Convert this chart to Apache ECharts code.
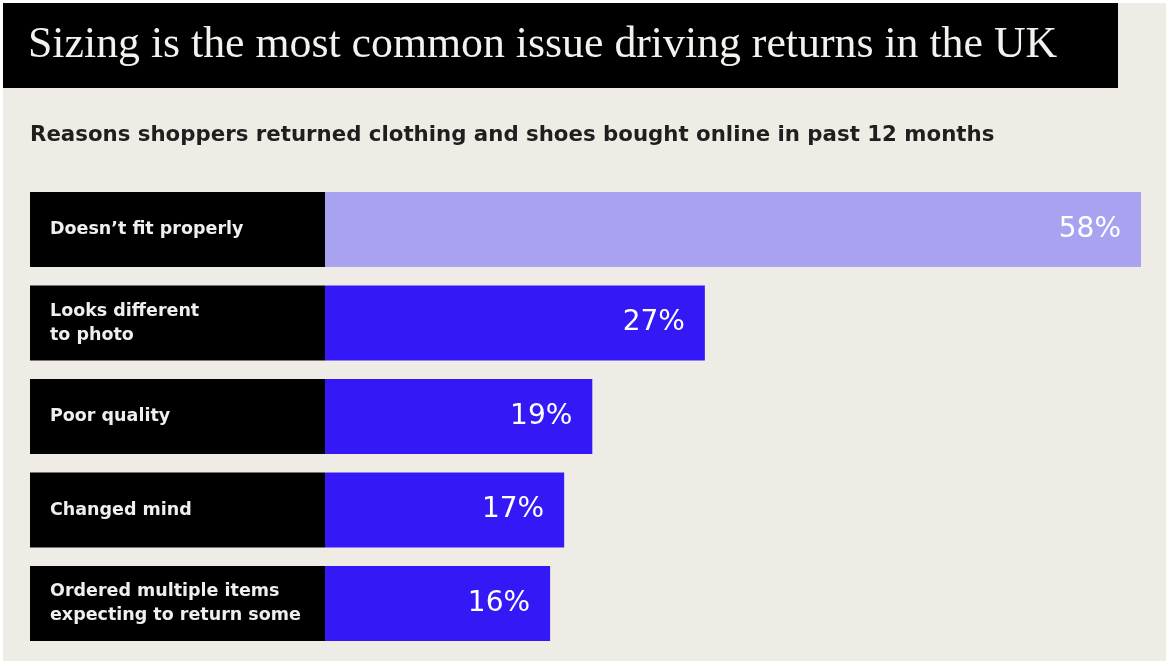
<!DOCTYPE html>
<html>
<head>
<meta charset="utf-8">
<title>Sizing is the most common issue driving returns in the UK</title>
<script src="https://cdn.jsdelivr.net/npm/echarts@6/dist/echarts.min.js"></script>
<style>
  html, body { margin: 0; padding: 0; background: #ffffff; }
  #chart { position: absolute; left: 3px; top: 3px; width: 1163px; height: 658px; }
</style>
</head>
<body>
<div id="chart"></div>
<script>
// Return reasons, top to bottom
const reasons = [
  'Doesn\u2019t fit properly',
  'Looks different\nto photo',
  'Poor quality',
  'Changed mind',
  'Ordered multiple items\nexpecting to return some'
];
// Share of shoppers (%)
const shares = [58, 27, 19, 17, 16];

const TITLE = 'Sizing is the most common issue driving returns in the UK';
const SUBTITLE = 'Reasons shoppers returned clothing and shoes bought online in past 12 months';

const BG = '#efece6';
const HIGHLIGHT = '#a8a2f1';
const ACCENT = '#3419f6';
const SANS = '"DejaVu Sans", "Noto Sans", sans-serif';

const chart = echarts.init(document.getElementById('chart'), null, { renderer: 'canvas' });

chart.setOption({
  backgroundColor: BG,
  animation: false,
  graphic: [
    { type: 'rect', left: 0, top: 0, shape: { width: 1115, height: 85 }, style: { fill: '#000000' }, z: 0 }
  ],
  title: [
    {
      text: TITLE,
      left: 25, top: 18, padding: 0,
      textStyle: { color: '#f4f2ee', fontFamily: '"Liberation Serif", "DejaVu Serif", serif', fontSize: 43.8, fontWeight: 'normal', lineHeight: 48 },
      z: 5
    },
    {
      text: SUBTITLE,
      left: 27, top: 118, padding: 0,
      textStyle: { color: '#1f1f1f', fontFamily: SANS, fontSize: 21.3, fontWeight: 'bold', lineHeight: 28 }
    }
  ],
  grid: { left: 322, right: 25, top: 179.75, bottom: 10.75, outerBoundsMode: 'none' },
  xAxis: {
    type: 'value', min: 0, max: 58,
    show: false
  },
  yAxis: {
    type: 'category',
    data: reasons,
    inverse: true,
    axisLine: { show: false },
    axisTick: { show: false },
    splitLine: { show: false },
    axisLabel: {
      interval: 0,
      margin: 295,
      align: 'left',
      verticalAlign: 'middle',
      width: 275,
      height: 75,
      padding: [0, 0, 0, 20],
      backgroundColor: '#000000',
      color: '#efefef',
      fontFamily: SANS,
      fontSize: 17.5,
      fontWeight: 'bold',
      lineHeight: 24,
      overflow: 'none'
    }
  },
  series: [{
    type: 'bar',
    data: shares.map((v, i) => ({ value: v, itemStyle: { color: i === 0 ? HIGHLIGHT : ACCENT } })),
    barWidth: 75,
    label: {
      show: true,
      position: 'insideRight',
      distance: 20,
      formatter: p => p.value + '%',
      color: '#ffffff',
      fontFamily: SANS,
      fontSize: 28,
      fontWeight: 'normal'
    }
  }]
});
</script>
</body>
</html>
